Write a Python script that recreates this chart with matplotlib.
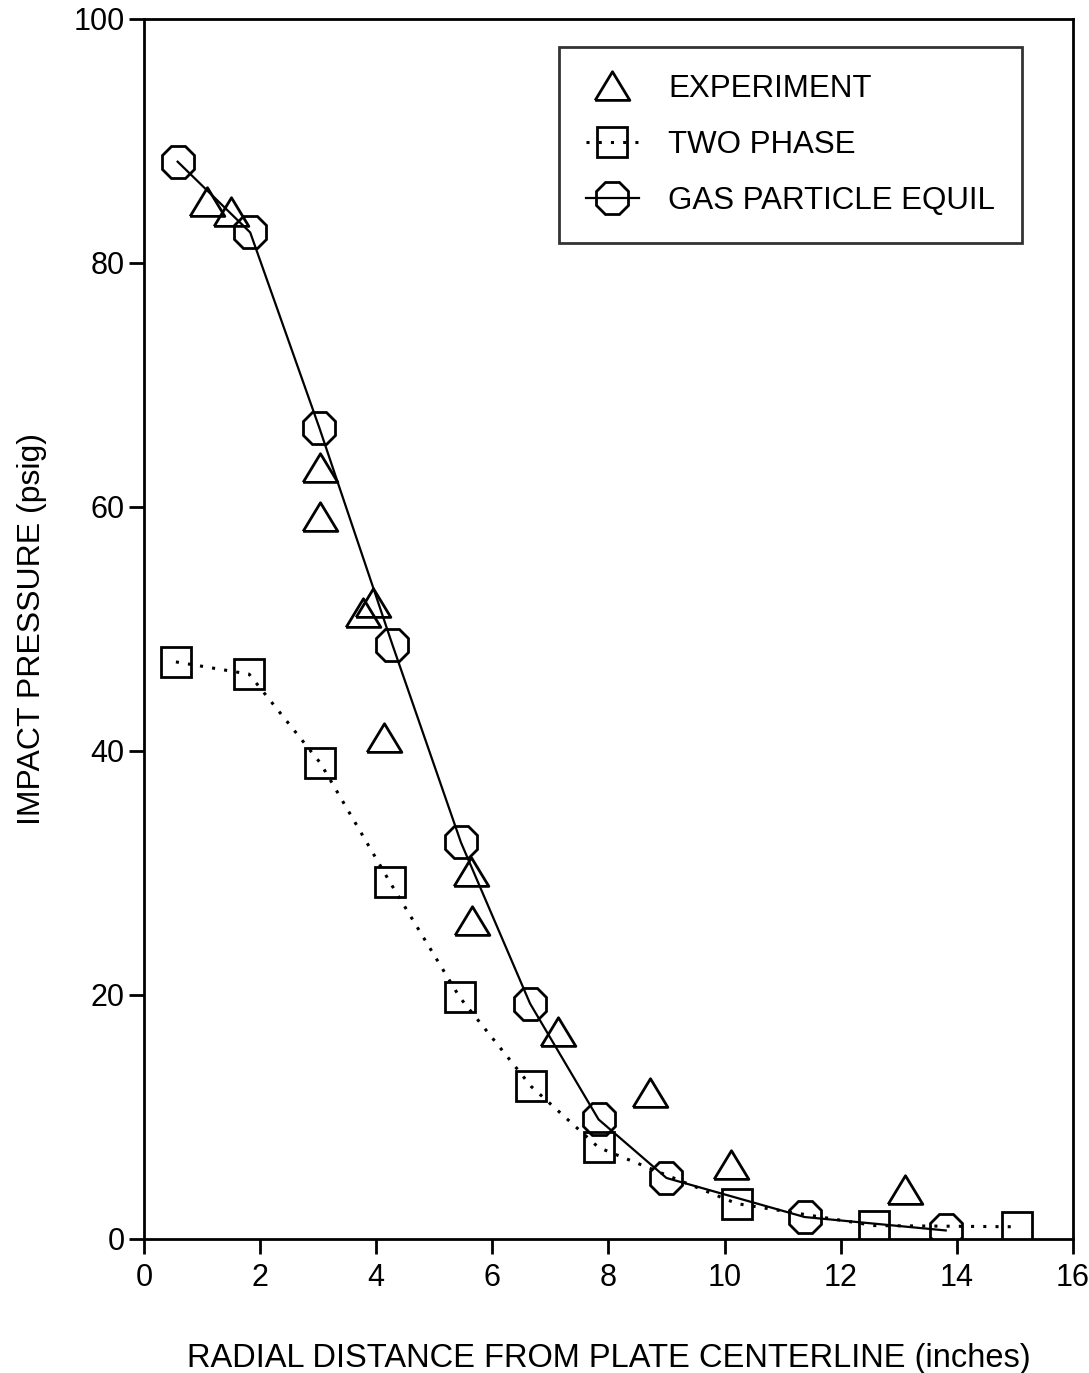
import matplotlib
matplotlib.use("Agg")
import matplotlib.pyplot as plt

plt.rcParams["font.family"] = ["Liberation Sans", "DejaVu Sans"]

# experiment (triangles)
exp_x = [1.08, 1.50, 3.04, 3.04, 3.94, 3.78, 4.13, 5.63, 5.65, 7.14, 8.71, 10.11, 13.10]
exp_y = [85.0, 84.2, 63.2, 59.2, 52.1, 51.3, 41.1, 30.1, 26.1, 17.0, 12.0, 6.1, 4.0]

# two phase (squares, dotted)
two_x = [0.55, 1.81, 3.04, 4.23, 5.44, 6.67, 7.83, 10.21, 12.58, 15.03]
two_y = [47.3, 46.3, 39.0, 29.3, 19.8, 12.5, 7.5, 2.9, 1.1, 1.0]

# gas particle equilibrium (circles, solid)
gas_x = [0.58, 1.83, 3.02, 4.28, 5.46, 6.65, 7.83, 9.00, 11.38, 13.81]
gas_y = [88.3, 82.5, 66.5, 48.7, 32.5, 19.3, 9.8, 5.0, 1.8, 0.7]

TRI = [(-1, -0.8), (1, -0.8), (0, 0.85), (-1, -0.8)]

fig = plt.figure(figsize=(10.89, 13.73), dpi=100)
ax = fig.add_axes([0.1322, 0.0976, 0.8530, 0.8886])

ax.plot(exp_x, exp_y, linestyle="none", marker=TRI, markersize=25,
        markerfacecolor="none", markeredgecolor="black", markeredgewidth=2.0,
        label="EXPERIMENT")
ax.plot(two_x, two_y, linestyle=(0, (1, 3)), color="black", lw=2.2,
        marker="s", markersize=21, markerfacecolor="none",
        markeredgecolor="black", markeredgewidth=2.0, label="TWO PHASE")
ax.plot(gas_x, gas_y, linestyle="-", color="black", lw=1.6,
        marker="8", markersize=25, markerfacecolor="none",
        markeredgecolor="black", markeredgewidth=2.0,
        label="GAS PARTICLE EQUIL")

ax.set_xlim(0, 16)
ax.set_ylim(0, 100)
ax.set_xticks(range(0, 17, 2))
ax.set_yticks(range(0, 101, 20))
ax.tick_params(direction="out", length=11, width=2, labelsize=22,
               top=False, right=False)
ax.tick_params(axis="x", pad=6)
ax.tick_params(axis="y", pad=3)
for s in ax.spines.values():
    s.set_linewidth(2)

ax.set_xlabel("RADIAL DISTANCE FROM PLATE CENTERLINE (inches)",
              fontsize=23.5, labelpad=36)
ax.set_ylabel("IMPACT PRESSURE (psig)", fontsize=23, labelpad=19)

leg = ax.legend(loc="upper right", bbox_to_anchor=(0.945, 0.977),
                fontsize=22.5, frameon=True, fancybox=False, edgecolor="black",
                handlelength=1.7, handletextpad=0.95, labelspacing=0.84,
                borderpad=0.85, borderaxespad=0)
leg.get_frame().set_linewidth(2)

fig.savefig("out.png", dpi=100)
